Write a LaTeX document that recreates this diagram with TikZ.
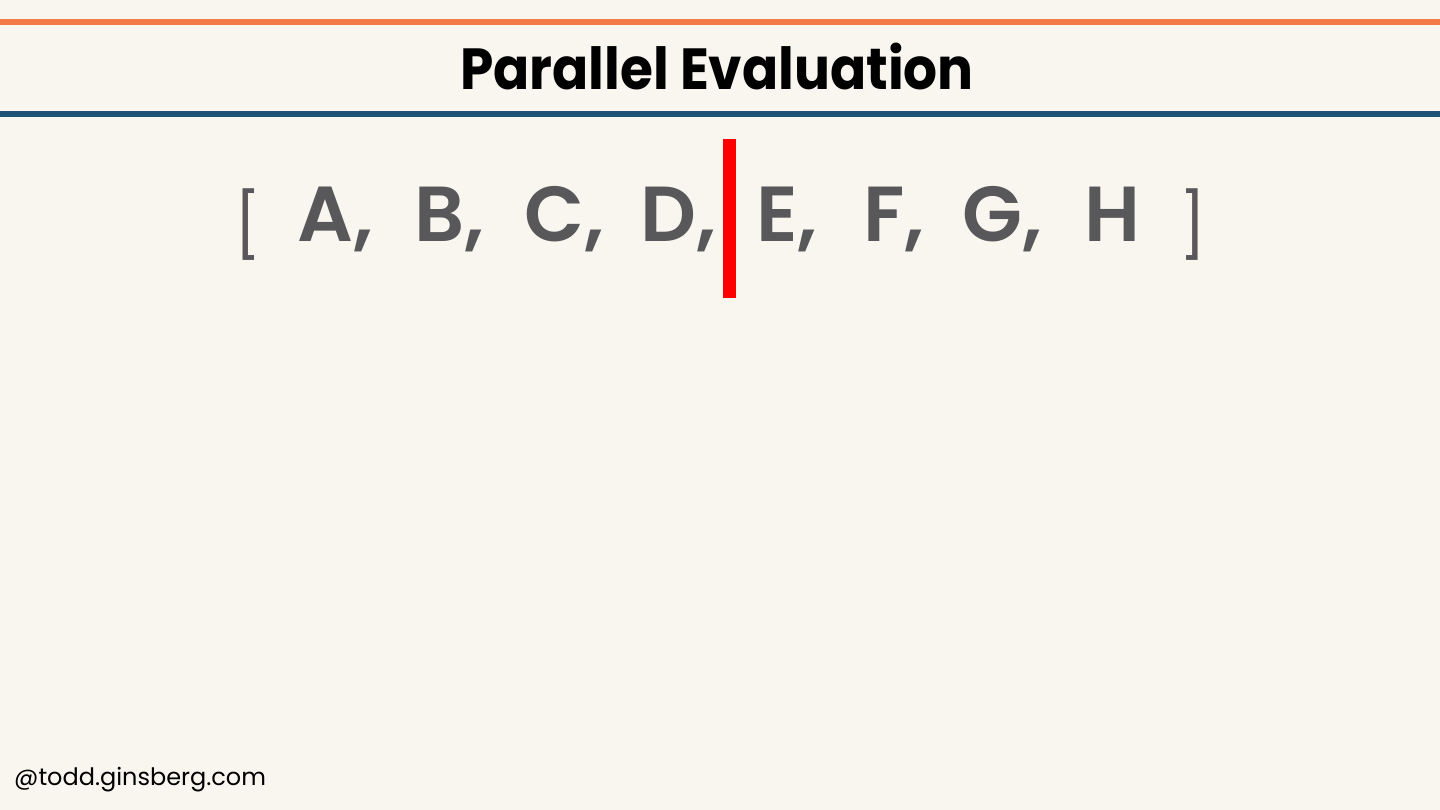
\documentclass[tikz,border=0pt]{standalone}
\usepackage{fontspec}
\setmainfont{Poppins}
\newfontfamily\popsemi{Poppins SemiBold}
\newfontfamily\popbold{Poppins Bold}
\definecolor{bg}{HTML}{F9F6F0}
\definecolor{topline}{HTML}{F47A4A}
\definecolor{botline}{HTML}{1D5274}
\definecolor{itemgray}{HTML}{58585A}
\tikzset{
  item/.style={inner sep=0pt, anchor=base west, text=itemgray, font=\popsemi\fontsize{78}{80}\selectfont},
  brack/.style={inner sep=0pt, anchor=base west, text=itemgray, font=\fontsize{64}{66}\selectfont},
}
\begin{document}
\begin{tikzpicture}[x=1pt,y=-1pt]
\fill[bg] (0,0) rectangle (1440,810);
\useasboundingbox (0,0) rectangle (1440,810);
\fill[topline] (0,19) rectangle (1440,25);
\fill[botline] (0,111.5) rectangle (1440,117.5);
\node[inner sep=0pt, anchor=base, xscale=0.92, font=\popbold\fontsize{58}{60}\selectfont] (title) at (717,90) {Parallel Evaluation};
\node[brack] (lb) at (234,249) {[};
\node[item] (a) at (297,242) {A,};
\node[item] (b) at (414,242) {B,};
\node[item] (c) at (524,242) {C,};
\node[item] (d) at (640,242) {D,};
\node[item] (e) at (756,242) {E,};
\node[item] (f) at (863,242) {F,};
\node[item] (g) at (962,242) {G,};
\node[item] (h) at (1084,242) {H};
\node[brack] (rb) at (1179,249) {]};
\fill[red] (723,139) rectangle (736,298);
\node[inner sep=0pt, anchor=base west, font=\fontsize{24}{26}\selectfont] (foot) at (14,785) {@todd.ginsberg.com};
\end{tikzpicture}
\end{document}
